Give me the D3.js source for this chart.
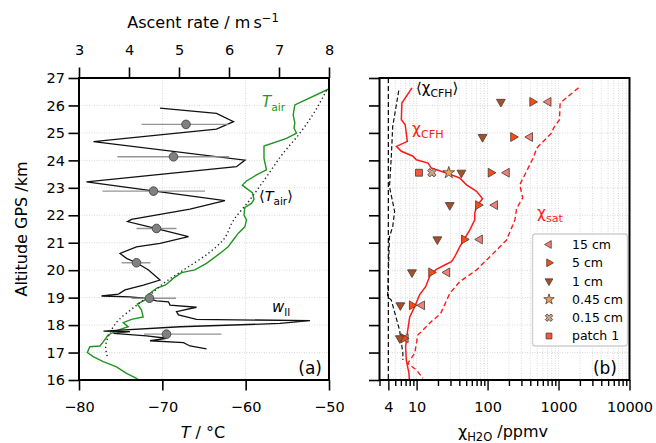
<!DOCTYPE html>
<html>
<head>
<meta charset="utf-8">
<script src="https://cdn.jsdelivr.net/npm/d3@7"></script>
<style>
  body { margin: 0; background: #fff; }
  svg text { font-family: "DejaVu Sans", sans-serif; }
</style>
</head>
<body>
<svg id="chart" width="656" height="443"></svg>
<script>
// ---- data ----
// panel (a): air temperature profile
const tairAlt = [26.59, 26.02, 25.65, 25.37, 25.17, 24.99, 24.80, 24.52, 24.07, 23.65, 23.47, 23.25, 23.10, 22.98, 22.82, 22.58, 22.43, 22.29, 22.01, 21.83, 21.58, 21.34, 21.10, 20.85, 20.61, 20.25, 20.01, 19.91, 19.70, 19.46, 19.34, 19.13, 18.91, 18.77, 18.55, 18.30, 18.21, 18.09, 17.94, 17.82, 17.64, 17.39, 17.24, 17.21, 17.00, 16.85, 16.67, 16.48, 16.24, 16.06, 15.9]
const tairVal = [-50.1, -54.1, -54.3, -54.1, -54.2, -53.9, -55.1, -57.8, -57.8, -57.5, -58.7, -59.9, -60.4, -59.9, -59.2, -59.0, -59.3, -60.1, -60.2, -59.9, -60.1, -60.9, -61.5, -62.1, -63.1, -64.7, -66.1, -67.7, -68.7, -69.6, -70.7, -71.6, -72.1, -73.0, -72.5, -72.3, -73.7, -74.7, -74.1, -75.3, -76.5, -77.1, -77.5, -78.7, -79.0, -78.3, -77.1, -75.5, -74.3, -73.1, -72.5]

// mean air temperature (dotted)
const meanTAlt = [26.55, 25.59, 24.99, 24.26, 23.40, 22.56, 21.80, 21.10, 20.61, 20.00, 19.60, 19.10, 18.67, 18.20, 17.70, 17.20, 16.85]
const meanTVal = [-50.3, -52.1, -53.5, -55.5, -57.5, -59.5, -61.5, -62.7, -64.5, -67.5, -69.5, -71.5, -73.3, -75.2, -76.3, -76.8, -76.6]

// ascent rate w_ll (top axis, m/s)
const wAlt = [25.9, 25.71, 25.41, 25.14, 24.68, 24.01, 23.77, 23.22, 22.53, 22.22, 21.85, 21.77, 21.52, 21.22, 20.98, 20.85, 20.61, 20.43, 20.27, 20.01, 19.64, 19.46, 19.28, 19.13, 19.06, 19.03, 18.97, 18.88, 18.85, 18.73, 18.65, 18.49, 18.37, 18.21, 18.16, 18.06, 17.94, 17.78, 17.76, 17.70, 17.61, 17.52, 17.43, 17.36, 17.24, 17.13]
const wVal = [4.62, 5.75, 6.09, 5.75, 3.29, 6.32, 6.15, 3.15, 5.92, 5.22, 4.05, 3.97, 4.53, 5.19, 4.62, 4.15, 3.82, 3.95, 4.15, 4.39, 4.62, 4.29, 3.92, 3.79, 3.45, 4.02, 4.35, 4.55, 4.79, 4.82, 5.35, 4.95, 4.99, 5.35, 7.62, 7.02, 5.02, 3.49, 4.02, 3.69, 4.35, 4.75, 4.42, 5.09, 5.22, 5.55]

// mean ascent rate per layer with spread
const dotAlt = [25.31, 24.13, 22.88, 21.52, 20.27, 18.98, 17.67]
const dotW = [5.14, 4.89, 4.49, 4.55, 4.15, 4.41, 4.75]
const dotLo = [4.25, 3.77, 3.47, 4.15, 3.85, 4.05, 4.30]
const dotHi = [6.00, 6.00, 5.52, 4.95, 4.43, 4.94, 5.85]

// panel (b): water vapour mixing ratio
const cfhAlt = [26.64, 26.09, 25.48, 25.30, 24.69, 24.51, 24.33, 24.15, 24.02, 23.90, 23.72, 23.54, 23.36, 23.11, 22.87, 22.60, 22.33, 22.08, 21.83, 21.46, 21.16, 20.85, 20.49, 20.31, 20.19, 20.03, 19.82, 19.40, 19.10, 18.67, 18.30, 17.82, 17.21, 16.73, 16.24, 16.0]
const cfhVal = [8.6, 6.2, 6.1, 6.9, 7.4, 5.2, 6.1, 8.9, 9.9, 14.5, 16.1, 26.3, 40.5, 50.5, 69.9, 85, 70, 66, 66, 56, 47.7, 40.5, 34.5, 31, 24.9, 19.0, 15.5, 13.4, 11.0, 9.4, 8.0, 7.5, 7.0, 7.15, 7.8, 7.9]

const satAlt = [26.64, 26.09, 25.48, 25.18, 25.00, 24.45, 24.09, 23.36, 23.11, 22.63, 22.26, 21.83, 21.10, 20.73, 20.01, 19.58, 19.15, 18.42, 18.12, 17.82, 17.64, 16.97, 16.61, 16.36, 16.06]
const satVal = [1910, 1054, 1030, 850, 800, 493, 440, 318, 284, 313, 257, 243, 185, 134, 70, 40.5, 29.3, 21.8, 16, 12.3, 10.4, 9.4, 7.5, 10.0, 12.3]

const meanCfhAlt = [26.54, 25.23, 24.13, 23.04, 22.14, 21.58, 21.22, 19.03, 18.91, 17.82, 16.98, 16.73]
const meanCfhVal = [5.6, 4.6, 4.4, 4.15, 4.9, 4.6, 4.15, 3.9, 4.4, 5.75, 6.4, 6.4]

// ice particle sizes observed at each layer
const sizeAlt = [26.13, 24.85, 23.55, 22.37, 21.12, 19.92, 18.72, 17.52]
const size15 = [720, 396, 186, 127, 77.8, 26.9, 11.9, 7.0]
const size5 = [428, 230, 111, 73.6, 46.7, 16.1, 8.6, 6.6]
const size1 = [154, 85, 42.8, 29.3, 19.6, 8.6, 5.9, 5.8]
const size045 = [[23.55, 28.4]]
const size015 = [[23.55, 16.4]]
const patch1 = [[23.55, 10.8]]

const altTicks = d3.range(16, 28)
const tTicks = [-80, -70, -60, -50]
const wTicks = [3, 4, 5, 6, 7, 8]
const chiTicks = [4, 10, 100, 1000, 10000]

// ---- layout ----
const svg = d3.select('#chart')
const yA = d3.scaleLinear().domain([16, 27]).range([380, 78])
const xT = d3.scaleLinear().domain([-80, -50]).range([79, 329])
const xW = d3.scaleLinear().domain([3, 8]).range([79, 329])
const xC = d3.scaleLog().domain([3, 10000]).range([379.5, 629.5])

const FS = 14.5   // tick labels
const LS = 16     // axis labels
const TICK = 10.5
const minus = s => String(s).replace('-', '\u2212')
const gridStyle = sel => sel.attr('stroke', '#cfcfcf').attr('stroke-width', 0.8).attr('stroke-dasharray', '1,1.5')

// rich text helper: parts = [{t, sub, sup, it}]
function rich(g, x, y, parts, opts = {}) {
  const size = opts.size || FS
  const t = g.append('text').attr('x', x).attr('y', y)
    .attr('font-size', size)
    .attr('fill', opts.fill || '#000')
    .attr('text-anchor', opts.anchor || 'start')
  if (opts.rotate) t.attr('transform', `rotate(${opts.rotate},${x},${y})`)
  let shift = 0
  parts.forEach(p => {
    const s = t.append('tspan').text(p.t)
    let target = 0
    if (p.sub) target = size * 0.25
    if (p.sup) target = -size * 0.4
    s.attr('dy', target - shift)
    shift = target
    if (p.sub || p.sup) s.attr('font-size', size * 0.72)
    if (p.it) s.attr('font-style', 'italic')
  })
  return t
}

// clip paths
const defs = svg.append('defs')
defs.append('clipPath').attr('id', 'clipA').append('rect')
  .attr('x', 79).attr('y', 78).attr('width', 250).attr('height', 302)
defs.append('clipPath').attr('id', 'clipB').append('rect')
  .attr('x', 379.5).attr('y', 78).attr('width', 250).attr('height', 302)

// ======== panel (a) ========
const gA = svg.append('g')

// grid
altTicks.forEach(a => {
  gA.append('line').attr('x1', 79).attr('x2', 329).attr('y1', yA(a)).attr('y2', yA(a)).call(gridStyle)
})
tTicks.slice(1, 3).forEach(t => {
  gA.append('line').attr('x1', xT(t)).attr('x2', xT(t)).attr('y1', 78).attr('y2', 380).call(gridStyle)
})

const plotA = gA.append('g').attr('clip-path', 'url(#clipA)')

const lineT = d3.line().x(d => xT(d[1])).y(d => yA(d[0]))
const lineTs = d3.line().x(d => xT(d[1])).y(d => yA(d[0])).curve(d3.curveMonotoneY)
const lineW = d3.line().x(d => xW(d[1])).y(d => yA(d[0]))

plotA.append('path')
  .datum(d3.zip(tairAlt, tairVal))
  .attr('d', lineT).attr('fill', 'none').attr('stroke', '#1e961e').attr('stroke-width', 1.4)

plotA.append('path')
  .datum(d3.zip(meanTAlt, meanTVal))
  .attr('d', lineTs).attr('fill', 'none').attr('stroke', '#222')
  .attr('stroke-width', 1.4).attr('stroke-dasharray', '1.3,2.8')

plotA.append('path')
  .datum(d3.zip(wAlt, wVal))
  .attr('d', lineW).attr('fill', 'none').attr('stroke', '#111').attr('stroke-width', 1.3)

// error bars and dots
dotAlt.forEach((a, i) => {
  plotA.append('line')
    .attr('x1', xW(dotLo[i])).attr('x2', xW(dotHi[i]))
    .attr('y1', yA(a)).attr('y2', yA(a))
    .attr('stroke', '#8a8a8a').attr('stroke-width', 1.4).attr('opacity', 0.9)
  plotA.append('circle')
    .attr('cx', xW(dotW[i])).attr('cy', yA(a)).attr('r', 4.3)
    .attr('fill', '#808080').attr('stroke', '#444').attr('stroke-width', 0.9)
})

// labels in panel (a)
rich(gA, 262, 107, [{ t: 'T', it: true }, { t: 'air', sub: true }], { fill: '#1e961e', size: 15 })
rich(gA, 259, 201, [{ t: '\u27E8' }, { t: 'T', it: true }, { t: 'air', sub: true }, { t: '\u27E9' }], { size: 14.5 })
rich(gA, 272, 312, [{ t: 'w', it: true }, { t: 'll', sub: true }], { size: 15 })
gA.append('text').attr('x', 322).attr('y', 374).attr('text-anchor', 'end')
  .attr('font-size', 17).text('(a)')

// frame
gA.append('rect').attr('x', 79).attr('y', 78).attr('width', 250).attr('height', 302)
  .attr('fill', 'none').attr('stroke', '#000').attr('stroke-width', 2)

// axes
const axL = gA.append('g').attr('transform', 'translate(79,0)')
  .call(d3.axisLeft(yA).tickValues(altTicks).tickSize(TICK).tickSizeOuter(0).tickPadding(3.5))
const axB = gA.append('g').attr('transform', 'translate(0,380)')
  .call(d3.axisBottom(xT).tickValues(tTicks).tickSize(TICK).tickSizeOuter(0).tickPadding(11).tickFormat(minus))
const axTop = gA.append('g').attr('transform', 'translate(0,78)')
  .call(d3.axisTop(xW).tickValues(wTicks).tickSize(TICK).tickSizeOuter(0).tickPadding(13).tickFormat(d3.format('d')))

;[axL, axB, axTop].forEach(ax => {
  ax.select('.domain').remove()
  ax.selectAll('.tick line').attr('stroke', '#000').attr('stroke-width', 1.6)
  ax.selectAll('.tick text').attr('font-size', FS).attr('font-family', 'DejaVu Sans').attr('fill', '#000')
})

rich(svg, 203, 28, [{ t: 'Ascent rate / m\u2009s' }, { t: '\u22121', sup: true }], { anchor: 'middle', size: LS })
rich(svg, 203, 438, [{ t: 'T', it: true }, { t: ' / \u00B0C' }], { anchor: 'middle', size: LS })
svg.append('text').attr('x', 27).attr('y', 229).attr('text-anchor', 'middle')
  .attr('font-size', LS).attr('transform', 'rotate(-90,27,229)').text('Altitude GPS /km')

// ======== panel (b) ========
const gB = svg.append('g')

const minorVals = []
;[1, 10, 100, 1000].forEach(dec => {
  d3.range(1, 10).forEach(m => {
    const v = m * dec
    if (v >= 3 && v <= 10000) minorVals.push(v)
  })
})
minorVals.push(10000)

minorVals.forEach(v => {
  gB.append('line').attr('x1', xC(v)).attr('x2', xC(v)).attr('y1', 78).attr('y2', 380).call(gridStyle)
})
altTicks.forEach(a => {
  gB.append('line').attr('x1', 379.5).attr('x2', 629.5).attr('y1', yA(a)).attr('y2', yA(a)).call(gridStyle)
})

const plotB = gB.append('g').attr('clip-path', 'url(#clipB)')
const lineC = d3.line().x(d => xC(d[1])).y(d => yA(d[0]))

// vertical reference line at 4 ppmv
plotB.append('line').attr('x1', xC(4)).attr('x2', xC(4)).attr('y1', 78).attr('y2', 380)
  .attr('stroke', '#111').attr('stroke-width', 1.3).attr('stroke-dasharray', '5,3')

plotB.append('path').datum(d3.zip(meanCfhAlt, meanCfhVal))
  .attr('d', lineC).attr('fill', 'none').attr('stroke', '#111').attr('stroke-width', 1.2)
  .attr('stroke-dasharray', '4.5,2.5')

plotB.append('path').datum(d3.zip(satAlt, satVal))
  .attr('d', lineC).attr('fill', 'none').attr('stroke', '#ff1a1a').attr('stroke-width', 1.4)
  .attr('stroke-dasharray', '5,3')

plotB.append('path').datum(d3.zip(cfhAlt, cfhVal))
  .attr('d', lineC).attr('fill', 'none').attr('stroke', '#ff1a1a').attr('stroke-width', 1.5)

// particle-size markers
const markerTypes = [
  { label: '15 cm', sym: d3.symbolTriangle, rot: -90, fill: '#f08078', data: d3.zip(sizeAlt, size15) },
  { label: '5 cm', sym: d3.symbolTriangle, rot: 90, fill: '#ff4a12', data: d3.zip(sizeAlt, size5) },
  { label: '1 cm', sym: d3.symbolTriangle, rot: 180, fill: '#a4502a', data: d3.zip(sizeAlt, size1) },
  { label: '0.45 cm', sym: d3.symbolStar, rot: 0, fill: '#f2a056', data: size045 },
  { label: '0.15 cm', sym: d3.symbolCross, rot: 45, fill: '#c9a489', data: size015 },
  { label: 'patch 1', sym: d3.symbolSquare, rot: 0, fill: '#f25a3a', data: patch1 }
]

markerTypes.forEach(mt => {
  const size = mt.sym === d3.symbolTriangle ? 34 : (mt.sym === d3.symbolSquare ? 48 : 44)
  const path = d3.symbol(mt.sym, size)()
  mt.data.forEach(d => {
    gB.append('path').attr('d', path)
      .attr('transform', `translate(${xC(d[1])},${yA(d[0])}) rotate(${mt.rot})`)
      .attr('fill', mt.fill).attr('stroke', '#4a3a34').attr('stroke-width', 0.8)
  })
})

// labels in panel (b)
rich(gB, 416, 93, [{ t: '\u27E8\u03C7' }, { t: 'CFH', sub: true }, { t: '\u27E9' }], { size: 15 })
rich(gB, 412, 134, [{ t: '\u03C7' }, { t: 'CFH', sub: true }], { fill: '#ff1a1a', size: 15.5 })
rich(gB, 537, 218, [{ t: '\u03C7' }, { t: 'sat', sub: true }], { fill: '#ff1a1a', size: 15.5 })

// legend
const lg = gB.append('g')
lg.append('rect').attr('x', 532.5).attr('y', 234).attr('width', 95).attr('height', 112)
  .attr('rx', 3).attr('fill', '#fff').attr('fill-opacity', 0.85)
  .attr('stroke', '#d0d0d0').attr('stroke-width', 1.4)
markerTypes.forEach((mt, i) => {
  const y = 244.5 + i * 18.3
  const size = mt.sym === d3.symbolTriangle ? 26 : 34
  lg.append('path').attr('d', d3.symbol(mt.sym, size)())
    .attr('transform', `translate(549,${y}) rotate(${mt.rot})`)
    .attr('fill', mt.fill).attr('stroke', '#4a3a34').attr('stroke-width', 0.8)
  lg.append('text').attr('x', 572).attr('y', y + 4.4).attr('font-size', 12.5).text(mt.label)
})

gB.append('text').attr('x', 617).attr('y', 374).attr('text-anchor', 'end')
  .attr('font-size', 17).text('(b)')

// frame
gB.append('rect').attr('x', 379.5).attr('y', 78).attr('width', 250).attr('height', 302)
  .attr('fill', 'none').attr('stroke', '#000').attr('stroke-width', 2)

const axLB = gB.append('g').attr('transform', 'translate(379.5,0)')
  .call(d3.axisLeft(yA).tickValues(altTicks).tickSize(TICK).tickSizeOuter(0).tickFormat(''))
const axBB = gB.append('g').attr('transform', 'translate(0,380)')
  .call(d3.axisBottom(xC).tickValues(chiTicks).tickSize(TICK).tickSizeOuter(0).tickPadding(11).tickFormat(d3.format('d')))
const axBBm = gB.append('g').attr('transform', 'translate(0,380)')
  .call(d3.axisBottom(xC).tickValues(minorVals.filter(v => !chiTicks.includes(v))).tickSize(6).tickSizeOuter(0).tickFormat(''))

;[axLB, axBB, axBBm].forEach(ax => {
  ax.select('.domain').remove()
  ax.selectAll('.tick line').attr('stroke', '#000').attr('stroke-width', 1.4)
  ax.selectAll('.tick text').attr('font-size', FS).attr('font-family', 'DejaVu Sans').attr('fill', '#000')
})
axLB.selectAll('.tick line').attr('stroke-width', 1.6)

rich(svg, 503, 437, [{ t: '\u03C7' }, { t: 'H', sub: true }, { t: '2', sub: true }, { t: 'O', sub: true }, { t: ' /ppmv' }], { anchor: 'middle', size: LS })
</script>
</body>
</html>
